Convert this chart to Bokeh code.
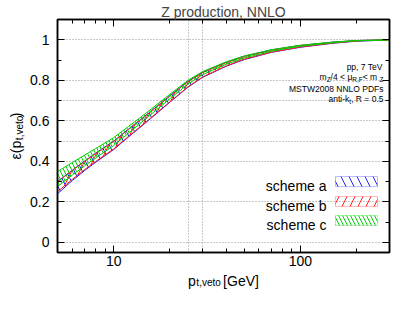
import math
from bokeh.plotting import figure
from bokeh.models import (Range1d, FixedTicker, BasicTickFormatter, LinearAxis, LogAxis,
                          Label, BoxAnnotation, CustomJSTickFormatter)
from bokeh.embed import file_html
from bokeh.resources import INLINE

# ---------------- data ----------------
pt = [5, 6, 7, 8, 10, 12, 15, 20, 25, 30, 40, 50, 70, 100, 150, 200, 300]
a_lo = [0.240, 0.305, 0.355, 0.395, 0.458, 0.520, 0.594, 0.692, 0.766, 0.815, 0.869, 0.902, 0.938, 0.963, 0.983, 0.993, 0.999]
a_hi = [0.300, 0.356, 0.402, 0.440, 0.500, 0.559, 0.630, 0.724, 0.795, 0.840, 0.889, 0.919, 0.950, 0.972, 0.988, 0.996, 1.000]
b_lo = [0.250, 0.311, 0.360, 0.399, 0.461, 0.523, 0.597, 0.694, 0.768, 0.817, 0.871, 0.904, 0.939, 0.964, 0.984, 0.994, 0.999]
b_hi = [0.300, 0.354, 0.400, 0.438, 0.498, 0.557, 0.628, 0.722, 0.793, 0.838, 0.887, 0.917, 0.949, 0.971, 0.988, 0.996, 1.000]
c_lo = [0.275, 0.332, 0.378, 0.416, 0.478, 0.539, 0.613, 0.709, 0.781, 0.828, 0.879, 0.910, 0.944, 0.968, 0.986, 0.995, 0.999]
c_hi = [0.350, 0.394, 0.431, 0.463, 0.517, 0.572, 0.640, 0.731, 0.800, 0.843, 0.891, 0.920, 0.951, 0.973, 0.989, 0.996, 1.000]

scheme_names = ["scheme a", "scheme b", "scheme c"]
title_text = "Z production, NNLO"

x_major = [10, 100]
x_minor = [5, 6, 7, 8, 9, 20, 30, 40, 50, 60, 70, 80, 90, 200, 300]
x_grid = [25, 30]
y_major = [0, 0.2, 0.4, 0.6, 0.8, 1.0]
y_major_labels = ["0", "0.2", "0.4", "0.6", "0.8", "1"]
y_minor = [0.1, 0.3, 0.5, 0.7, 0.9]
y_grid = [0, 0.2, 0.4, 0.5, 0.6, 0.7, 0.8, 1.0]

# ---------------- styles ----------------
colors = ["#2020ff", "#ff2020", "#00d000"]
hatches = ["\\", "/", "\\"]
hatch_scales = [16, 16, 8]
FONT = "Liberation Sans"

W, H = 391, 299
ML, MR, MT, MB = 57, 2, 19, 47
FW, FH = W - ML - MR, H - MT - MB

p = figure(width=W, height=H, x_axis_type="log", output_backend="svg",
           toolbar_location=None, x_range=Range1d(5, 300), y_range=Range1d(-0.05, 1.1),
           min_border_left=ML, min_border_right=MR, min_border_top=MT, min_border_bottom=MB)
p.outline_line_color = "black"
p.outline_line_width = 1.5
p.background_fill_color = "white"
p.border_fill_color = "white"

p.title.text = title_text
p.title.align = "center"
p.title.text_font = FONT
p.title.text_font_size = "14px"
p.title.text_font_style = "normal"
p.title.standoff = 0
p.title.offset = 0

def style_axis(ax, show):
    ax.major_tick_in = 7
    ax.major_tick_out = 0
    ax.minor_tick_in = 4
    ax.minor_tick_out = 0
    ax.major_tick_line_color = "black"
    ax.minor_tick_line_color = "black"
    ax.axis_line_color = "black"
    ax.axis_line_width = 1.5
    if show:
        ax.major_label_text_font = FONT
        ax.major_label_text_font_size = "14px"
        ax.major_label_text_color = "black"
    else:
        ax.formatter = CustomJSTickFormatter(code="return ''")
        ax.major_label_text_font_size = "0px"
        ax.major_label_standoff = 0

xa = p.xaxis[0]
xa.ticker = FixedTicker(ticks=x_major, minor_ticks=x_minor)
xa.formatter = BasicTickFormatter()
style_axis(xa, True)
xa.major_label_standoff = 3

ya = p.yaxis[0]
ya.ticker = FixedTicker(ticks=y_major, minor_ticks=y_minor)
ya.major_label_overrides = dict(zip(y_major, y_major_labels))
style_axis(ya, True)
ya.major_label_standoff = 8

top = LogAxis(ticker=FixedTicker(ticks=x_major, minor_ticks=x_minor))
style_axis(top, False)
p.add_layout(top, "above")
right = LinearAxis(ticker=FixedTicker(ticks=y_major, minor_ticks=y_minor))
style_axis(right, False)
p.add_layout(right, "right")

p.xgrid.ticker = FixedTicker(ticks=x_grid)
p.ygrid.ticker = FixedTicker(ticks=y_grid)
for g in (p.xgrid[0], p.ygrid[0]):
    g.grid_line_color = "#909090"
    g.grid_line_dash = "1 2"
    g.grid_line_width = 1

# ---------------- bands ----------------
for lo, hi, col, hp, hs in zip([a_lo, b_lo, c_lo], [a_hi, b_hi, c_hi], colors, hatches, hatch_scales):
    xs = pt + pt[::-1]
    ys = lo + hi[::-1]
    p.patch(xs, ys, fill_color=None, line_color=col, line_width=1,
            hatch_pattern=hp, hatch_color=col, hatch_scale=hs, hatch_weight=1)

# ---------------- texts ----------------
NB = "\u00a0"
CW = {' ': .278, NB: .278, ',': .278, '.': .278, '/': .278, '(': .333, ')': .333, '[': .278, ']': .278,
      '<': .584, '=': .584, '-': .333, 'μ': .576, 'ε': .45,
      'A': .667, 'D': .722, 'F': .611, 'G': .778, 'L': .556, 'M': .833, 'N': .722, 'O': .778,
      'P': .667, 'R': .722, 'S': .667, 'T': .611, 'V': .667, 'W': .944, 'Z': .611,
      'a': .556, 'c': .5, 'e': .556, 'h': .556, 'i': .222, 'k': .5, 'm': .833, 'n': .556,
      'o': .556, 'p': .556, 's': .5, 't': .278, 'v': .5, 'u': .556, 'r': .333, 'd': .556}

def tw(s, size):
    return sum(CW.get(c, .556) for c in s) * size

def mk(x, y, text, size, align="left", angle=0.0):
    return Label(x=x, y=y, x_units="screen", y_units="screen", text=text,
                 text_font=FONT, text_font_size=f"{size}px", text_color="black",
                 text_align=align, text_baseline="alphabetic", angle=angle)

def rich(pieces, along, across, align, size, sub_size, sub_dy):
    total = sum(tw(t, sub_size if s else size) for t, s in pieces)
    pos = along - total if align == "right" else (along - total / 2 if align == "center" else along)
    for t, s in pieces:
        fs = sub_size if s else size
        p.add_layout(mk(pos, across - (sub_dy if s else 0), t, fs))
        pos += tw(t, fs)

# axis labels: main text (gap of non-breaking spaces for the subscript) + subscript,
# placed in side panels so that they are not clipped to the frame
SUB = "t,veto"
gap = NB * 6
x_main = "p" + gap + NB + "[GeV]"
x0 = FW / 2 - tw(x_main, 14) / 2
p.add_layout(mk(x0, 4, x_main, 14), "below")
p.add_layout(mk(x0 + tw("p", 14) + 0.5, 13, SUB, 10), "below")

y_main = "ε(p" + gap + ")"
y0 = FH / 2 - tw(y_main, 14) / 2
p.add_layout(mk(4, y0, y_main, 14, angle=math.pi / 2), "left")
p.add_layout(mk(19, y0 + tw("ε(p", 14) + 0.5, SUB, 10, angle=math.pi / 2), "left")

# annotations
rx = FW - 6
rich([("pp, 7 TeV", False)], rx, FH - 47.5, "right", 8.5, 6.5, 2.5)
rich([("m", False), ("Z", True), ("/4 < μ", False), ("R,F", True), (" < m", False), ("Z", True)],
     rx, FH - 57, "right", 8.5, 6.5, 2.5)
rich([("MSTW2008 NNLO PDFs", False)], rx, FH - 69, "right", 8.5, 6.5, 2.5)
rich([("anti-k", False), ("t", True), (", R = 0.5", False)], rx, FH - 79, "right", 8.5, 6.5, 2.5)

# legend
centers = [71, 51, 32]
for name, col, hp, hs, cy in zip(scheme_names, colors, hatches, hatch_scales, centers):
    p.add_layout(mk(FW - 63, cy - 4.5, name, 14, align="right"))
    p.add_layout(BoxAnnotation(left=FW - 54, right=FW - 12, bottom=cy - 5, top=cy + 5,
                               left_units="screen", right_units="screen",
                               bottom_units="screen", top_units="screen",
                               fill_color=None, line_color=col, line_width=1,
                               hatch_pattern=hp, hatch_color=col, hatch_scale=hs, hatch_weight=1))

open("out.html", "w").write(file_html(p, INLINE))
